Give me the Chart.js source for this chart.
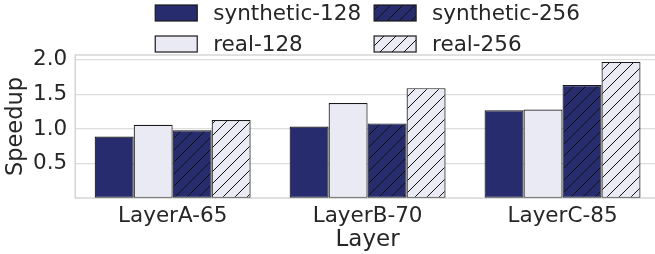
<!DOCTYPE html>
<html>
<head>
<meta charset="utf-8">
<script src="https://cdn.jsdelivr.net/npm/chart.js@4.4.1/dist/chart.umd.min.js"></script>
<style>
  html, body { margin: 0; padding: 0; background: #ffffff; overflow: hidden; width: 655px; height: 254px; }
  #wrap { width: 662px; height: 254px; }
  canvas { display: block; }
</style>
</head>
<body>
<div id="wrap"><canvas id="c" width="662" height="254" style="width:662px;height:254px"></canvas></div>
<script>
// ---- data ----
const categories = ['LayerA-65', 'LayerB-70', 'LayerC-85'];
const synthetic128 = [0.89, 1.035, 1.27];
const real128 = [1.06, 1.375, 1.28];
const synthetic256 = [0.98, 1.08, 1.635];
const real256 = [1.13, 1.59, 1.97];
const yTicks = [0.5, 1.0, 1.5, 2.0];
const yMax = 2.07;

const NAVY = '#272c6f';
const LIGHT = '#eaeaf4';
const EDGE = '#1a1a1a';
const TEXT = '#262626';
const FONT = 'DejaVu Sans';

function hatch(bg) {
  const s = 12;
  const c = document.createElement('canvas');
  c.width = s; c.height = s;
  const g = c.getContext('2d');
  g.fillStyle = bg; g.fillRect(0, 0, s, s);
  g.strokeStyle = '#111111'; g.lineWidth = 1;
  g.beginPath();
  g.moveTo(-2, s + 2); g.lineTo(s + 2, -2);
  g.moveTo(-2 - s, s + 2); g.lineTo(2, -2);
  g.moveTo(s - 2, s + 2); g.lineTo(s + 2 + s, -2);
  g.stroke();
  return g.createPattern(c, 'repeat');
}

const fills = [NAVY, LIGHT, hatch(NAVY), hatch(LIGHT)];
const labels = ['synthetic-128', 'real-128', 'synthetic-256', 'real-256'];
const series = [synthetic128, real128, synthetic256, real256];

const datasets = series.map((d, i) => ({
  label: labels[i],
  data: d,
  backgroundColor: fills[i],
  borderColor: EDGE,
  borderWidth: 1.2,
  borderSkipped: false,
  categoryPercentage: 0.8,
  barPercentage: 1.0
}));

const framePlugin = {
  id: 'frame',
  afterDatasetsDraw(chart) {
    const { ctx, chartArea: a } = chart;
    ctx.save();
    ctx.strokeStyle = '#cccccc';
    ctx.lineWidth = 1.2;
    ctx.strokeRect(a.left, a.top, a.right - a.left, a.bottom - a.top);
    ctx.restore();
  }
};

const legendPlugin = {
  id: 'customLegend',
  afterDraw(chart) {
    const { ctx, chartArea: a } = chart;
    const ds = chart.data.datasets;
    ctx.save();
    ctx.font = '21.5px "' + FONT + '"';
    ctx.textBaseline = 'middle';
    ctx.fillStyle = TEXT;
    const boxW = 42, boxH = 16, pad = 16, colGap = 13, rowY = [13, 44];
    const cols = [[0, 1], [2, 3]];
    const colTextW = cols.map(c => Math.max(...c.map(i => ctx.measureText(ds[i].label).width)));
    const total = cols.length * (boxW + pad) + colTextW[0] + colTextW[1] + colGap;
    let x = (a.left + a.right) / 2 - total / 2;
    cols.forEach((c, ci) => {
      c.forEach((i, ri) => {
        const y = rowY[ri];
        ctx.fillStyle = ds[i].backgroundColor;
        ctx.fillRect(x, y - boxH / 2, boxW, boxH);
        ctx.strokeStyle = EDGE; ctx.lineWidth = 1.2;
        ctx.strokeRect(x, y - boxH / 2, boxW, boxH);
        ctx.fillStyle = TEXT;
        ctx.fillText(ds[i].label, x + boxW + pad, y + 1);
      });
      x += boxW + pad + colTextW[ci] + colGap;
    });
    ctx.restore();
  }
};

new Chart(document.getElementById('c'), {
  type: 'bar',
  data: { labels: categories, datasets },
  plugins: [framePlugin, legendPlugin],
  options: {
    responsive: false,
    animation: false,
    devicePixelRatio: 1,
    layout: { padding: { top: 55, left: 2, right: 2, bottom: 0 } },
    plugins: { legend: { display: false }, tooltip: { enabled: false } },
    scales: {
      x: {
        type: 'category',
        offset: true,
        grid: { display: false, drawTicks: false },
        border: { display: false },
        ticks: { color: TEXT, font: { family: FONT, size: 21.5, lineHeight: 1 }, padding: 7.25, maxRotation: 0 },
        title: { display: true, text: 'Layer', color: TEXT, font: { family: FONT, size: 23, lineHeight: 0.52 }, padding: { top: 0, bottom: 8 } }
      },
      y: {
        min: 0,
        max: yMax,
        afterBuildTicks(scale) { scale.ticks = yTicks.map(v => ({ value: v })); },
        grid: { color: '#dddddd', lineWidth: 1.2, drawTicks: false },
        border: { display: false },
        ticks: { color: TEXT, font: { family: FONT, size: 21.5 }, padding: 8, callback: v => Number(v).toFixed(1) },
        title: { display: true, text: 'Speedup', color: TEXT, font: { family: FONT, size: 22.5, lineHeight: 0.8 }, padding: { top: 5, bottom: 0 } }
      }
    }
  }
});
</script>
</body>
</html>
